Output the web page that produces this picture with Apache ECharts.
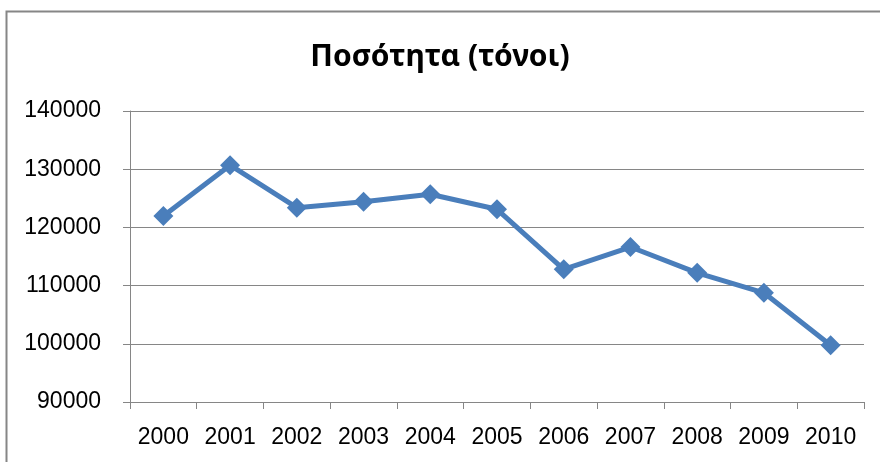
<!DOCTYPE html>
<html>
<head>
<meta charset="utf-8">
<script src="https://cdn.jsdelivr.net/npm/echarts@6/dist/echarts.min.js"></script>
<style>
  html, body { margin: 0; padding: 0; background: #fff; }
  #chart { width: 880px; height: 462px; }
</style>
</head>
<body>
<div id="chart"></div>
<script>
var years = ['2000', '2001', '2002', '2003', '2004', '2005', '2006', '2007', '2008', '2009', '2010'];
var tonnes = [121960, 130690, 123390, 124420, 125700, 123110, 112790, 116630, 112200, 108760, 99760];
var yTicks = [90000, 100000, 110000, 120000, 130000, 140000];

var chart = echarts.init(document.getElementById('chart'));
var gray = '#868686';

var option = {
  animation: false,
  backgroundColor: '#fff',
  title: {
    text: 'Ποσότητα (τόνοι)',
    left: 'center',
    top: 37,
    textStyle: { fontFamily: 'Noto Sans', fontWeight: 'bold', fontSize: 30, color: '#000' }
  },
  graphic: [{
    type: 'rect',
    shape: { x: 6.5, y: 11.5, width: 900, height: 500 },
    style: { fill: 'none', stroke: gray, lineWidth: 2 },
    silent: true
  }],
  grid: { left: 130, right: 16, top: 111, bottom: 60, containLabel: false },
  xAxis: {
    type: 'category',
    data: years,
    boundaryGap: true,
    axisLine: { lineStyle: { color: gray, width: 1 } },
    axisTick: { show: true, length: 7, inside: false, alignWithLabel: false, lineStyle: { color: gray } },
    axisLabel: { color: '#000', fontFamily: 'Liberation Sans', fontSize: 23, margin: 24 }
  },
  yAxis: {
    type: 'value',
    min: yTicks[0],
    max: yTicks[yTicks.length - 1],
    interval: 10000,
    axisLine: { show: true, lineStyle: { color: gray, width: 1 } },
    axisTick: { show: true, length: 7, lineStyle: { color: gray } },
    splitLine: { show: true, lineStyle: { color: gray, width: 1 } },
    axisLabel: {
      color: '#000', fontFamily: 'Liberation Sans', fontSize: 23, margin: 29,
      formatter: function (v) { return String(v); }
    }
  },
  series: [{
    type: 'line',
    data: tonnes,
    symbol: 'diamond',
    symbolSize: 20,
    lineStyle: { color: '#4a7ebb', width: 5 },
    itemStyle: { color: '#4a7ebb' }
  }]
};

chart.setOption(option);
</script>
</body>
</html>
